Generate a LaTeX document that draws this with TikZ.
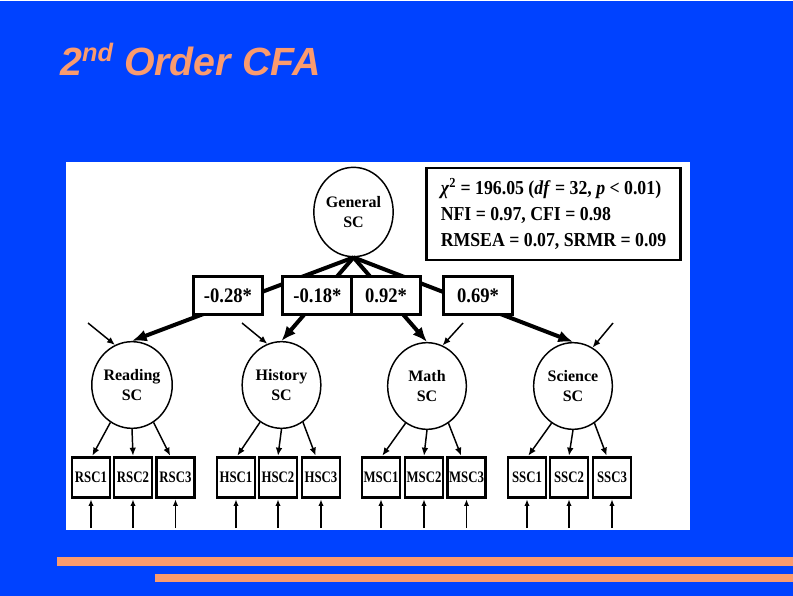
\documentclass[tikz,border=0pt]{standalone}
\usepackage{fontspec}
\setmainfont{Liberation Serif}
\newfontfamily\titlefont{Liberation Sans}
\newfontfamily\narrowA[FakeStretch=0.9]{Liberation Serif}
\newfontfamily\narrowB[FakeStretch=0.8]{Liberation Serif}
\usetikzlibrary{arrows.meta,shapes.geometric}
\definecolor{slideblue}{RGB}{0,66,255}
\definecolor{salmon}{RGB}{250,155,110}
\tikzset{
  latent/.style={draw, ellipse, line width=1.1pt, fill=white, minimum width=59pt, minimum height=65pt, inner sep=0pt, align=center, font=\fontsize{12}{15}\selectfont\bfseries},
  ind/.style={draw, line width=2.2pt, fill=white, minimum width=28.5pt, minimum height=30.5pt, inner sep=0pt, font=\narrowB\fontsize{12}{12}\selectfont\bfseries},
  coef/.style={draw, line width=2.2pt, fill=white, minimum width=52pt, minimum height=29pt, inner sep=0pt, font=\narrowA\fontsize{15.5}{16}\selectfont\bfseries},
  struct/.style={line width=3pt, -{Latex[length=11pt,width=9pt]}},
  load/.style={line width=1.1pt, -{Latex[length=6pt,width=5pt]}},
  err/.style={line width=1.4pt, -{Latex[length=5pt,width=4pt]}},
}
\begin{document}
\begin{tikzpicture}[x=0.75pt,y=-0.75pt]
\useasboundingbox (0,0) rectangle (793,596);
\fill[slideblue] (0,0) rectangle (793,596);
\fill[white] (0,0) rectangle (793,1.5);
\fill[salmon] (57,557) rectangle (793,566);
\fill[salmon] (155,574) rectangle (793,582);
\node[anchor=base west, inner sep=0pt, text=salmon, font=\titlefont\fontsize{29.5}{30}\selectfont\bfseries\itshape] (title) at (60,75) {2\raisebox{10pt}{\fontsize{19}{19}\selectfont nd} Order CFA};
\fill[white] (66,162) rectangle (690,530);

% general factor
\node[latent, minimum width=59.5pt, minimum height=67pt] (G) at (353.5,212) {General\\SC};
% first order factors
\node[latent] (R) at (132,385) {Reading\\SC};
\node[latent] (H) at (281.5,385) {History\\SC};
\node[latent] (M) at (427,386) {Math\\SC};
\node[latent] (S) at (573,386) {Science\\SC};

% structural paths
\draw[struct] (G.south) -- (R.north);
\draw[struct] (G.south) -- (H.north);
\draw[struct] (G.south) -- (M.north);
\draw[struct] (G.south) -- (S.north);

% coefficient boxes
\node[coef] (c1) at (228,295.5) {-0.28*};
\node[coef] (c2) at (317.5,295.5) {-0.18*};
\node[coef] (c3) at (386,295.5) {0.92*};
\node[coef] (c4) at (478,295.5) {0.69*};

% fit box
\node[draw, line width=2.2pt, fill=white, minimum width=191pt, minimum height=69pt, align=left, inner sep=3pt, font=\narrowA\fontsize{14.8}{19.5}\selectfont\bfseries] (fit) at (553.5,214) {\textit{χ}\textsuperscript{2} = 196.05 (\textit{df} = 32, \textit{p} < 0.01)\\NFI = 0.97, CFI = 0.98\\RMSEA = 0.07, SRMR = 0.09};

% disturbances
\coordinate (dR) at (88,323);
\coordinate (dH) at (242,323);
\coordinate (dM) at (463,323);
\coordinate (dS) at (613,323);
\draw[load] (dR) -- (R.113);
\draw[load] (dH) -- (H.109);
\draw[load] (dM) -- (M.69);
\draw[load] (dS) -- (S.63);

% indicators
\foreach \n/\x in {RSC1/91,RSC2/133,RSC3/175.5,HSC1/236,HSC2/278,HSC3/321,MSC1/381,MSC2/424,MSC3/466.5,SSC1/527,SSC2/569,SSC3/612}{
  \node[ind] (\n) at (\x,477.5) {\n};
  \coordinate (e\n) at (\x,528);
  \draw[err] (e\n) -- (\n.south);
}
\foreach \f/\a/\b/\c in {R/RSC1/RSC2/RSC3,H/HSC1/HSC2/HSC3,M/MSC1/MSC2/MSC3,S/SSC1/SSC2/SSC3}{
  \draw[load] (\f.-120) -- ([xshift=1pt]\a.north);
  \draw[load] (\f.south) -- (\b.north);
  \draw[load] (\f.-60) -- ([xshift=-4pt]\c.north);
}
\end{tikzpicture}
\end{document}
